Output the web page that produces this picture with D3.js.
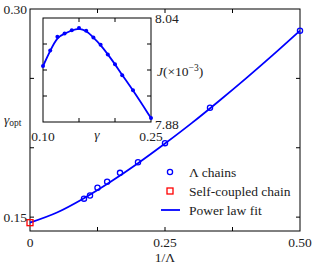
<!DOCTYPE html>
<html>
<head>
<meta charset="utf-8">
<script src="https://cdn.jsdelivr.net/npm/d3@7"></script>
<style>
  body { margin: 0; background: #fff; }
  svg { display: block; }
</style>
</head>
<body>
<svg id="chart" width="315" height="264"></svg>
<script>
// main panel: gamma_opt against 1/Lambda
const chainX = [0.1, 1 / 9, 0.125, 1 / 7, 1 / 6, 0.2, 0.25, 1 / 3, 0.5];
const chainY = [0.1633, 0.1656, 0.1712, 0.1755, 0.1819, 0.1896, 0.2033, 0.2288, 0.2844];
const selfX = [0];
const selfY = [0.146];
const fitX = [0, 0.05, 0.1, 0.15, 0.2, 0.25, 0.3, 0.35, 0.4, 0.45, 0.5];
const fitY = [0.146, 0.1533, 0.1636, 0.1756, 0.1888, 0.203, 0.2179, 0.2337, 0.25, 0.2669, 0.2844];

// inset: J against gamma
const insetG = [0.10, 0.11, 0.12, 0.13, 0.14, 0.15, 0.16, 0.17, 0.18, 0.19, 0.20, 0.21, 0.225, 0.25];
const insetJ = [7.966, 7.990, 8.011, 8.016, 8.021, 8.0246, 8.0205, 8.010, 7.999, 7.984, 7.969, 7.952, 7.929, 7.886];

const xTicks = [0, 0.125, 0.25, 0.375, 0.5];
const xLabels = ["0", "0.25", "0.50"];
const yTicks = [0.15, 0.2, 0.25, 0.3];
const yLabels = ["0.15", "0.30"];
const gTicks = [0.1, 0.15, 0.2, 0.25];
const jTicks = [7.88, 7.92, 7.96, 8.0, 8.04];

const blue = "#0000ff", red = "#ff0000";
const svg = d3.select("#chart")
  .attr("font-family", "'Liberation Serif', 'Times New Roman', serif")
  .attr("font-size", "13.5px")
  .attr("fill", "#222");

var x = d3.scaleLinear().domain([0, 0.5]).range([30, 300]);
var y = d3.scaleLinear().domain([0.14, 0.30]).range([231, 9]);

// inward ticks on all four sides
function inTicks(g, xs, ys, xsc, ysc, len) {
  const [x0, x1] = xsc.range(), [y0, y1] = ysc.range();
  xs.forEach(function (v) {
    g.append("line").attr("x1", xsc(v)).attr("x2", xsc(v)).attr("y1", y0).attr("y2", y0 - len);
    g.append("line").attr("x1", xsc(v)).attr("x2", xsc(v)).attr("y1", y1).attr("y2", y1 + len);
  });
  ys.forEach(function (v) {
    g.append("line").attr("y1", ysc(v)).attr("y2", ysc(v)).attr("x1", x0).attr("x2", x0 + len);
    g.append("line").attr("y1", ysc(v)).attr("y2", ysc(v)).attr("x1", x1).attr("x2", x1 - len);
  });
  g.selectAll("line").attr("stroke", "#000").attr("stroke-width", 1);
}

const main = svg.append("g");
main.append("rect")
  .attr("x", 30).attr("y", 9).attr("width", 270).attr("height", 222)
  .attr("fill", "none").attr("stroke", "#000").attr("stroke-width", 1);
inTicks(main.append("g"), xTicks.slice(1, 4), yTicks.slice(0, 3), x, y, 4);

// fit line
const fitLine = d3.line().x((d) => x(d[0])).y((d) => y(d[1])).curve(d3.curveMonotoneX);
main.append("path")
  .datum(d3.zip(fitX, fitY))
  .attr("d", fitLine)
  .attr("fill", "none").attr("stroke", blue).attr("stroke-width", 1.8);

main.selectAll(".chain")
  .data(d3.zip(chainX, chainY))
  .enter().append("circle")
  .attr("cx", (d) => x(d[0])).attr("cy", (d) => y(d[1])).attr("r", 2.6)
  .attr("fill", "none").attr("stroke", blue).attr("stroke-width", 1.3);

main.selectAll(".self")
  .data(d3.zip(selfX, selfY))
  .enter().append("rect")
  .attr("x", (d) => x(d[0]) - 3).attr("y", (d) => y(d[1]) - 3)
  .attr("width", 6).attr("height", 6)
  .attr("fill", "none").attr("stroke", red).attr("stroke-width", 1.3);

// tick labels
main.selectAll(".xl").data(xLabels).enter().append("text")
  .attr("x", (d) => x(+d)).attr("y", 242).attr("dy", "0.35em")
  .attr("text-anchor", "middle").text((d) => d);
main.selectAll(".yl").data(yLabels).enter().append("text")
  .attr("x", 27).attr("y", (d) => y(+d)).attr("dy", "0.35em")
  .attr("text-anchor", "end").text((d) => d);

main.append("text").attr("x", 165).attr("y", 257).attr("dy", "0.35em")
  .attr("text-anchor", "middle").text("1/Λ");
const yl = main.append("text").attr("x", 4).attr("y", 119).attr("dy", "0.35em");
yl.append("tspan").attr("font-style", "italic").text("γ");
yl.append("tspan").attr("font-size", "9.5px").attr("dy", "2").text("opt");

// legend
const leg = main.append("g");
leg.append("circle").attr("cx", 170).attr("cy", 172).attr("r", 2.6)
  .attr("fill", "none").attr("stroke", blue).attr("stroke-width", 1.3);
leg.append("rect").attr("x", 167).attr("y", 188).attr("width", 6).attr("height", 6)
  .attr("fill", "none").attr("stroke", red).attr("stroke-width", 1.3);
leg.append("line").attr("x1", 161).attr("x2", 180).attr("y1", 210).attr("y2", 210)
  .attr("stroke", blue).attr("stroke-width", 1.8);
["Λ chains", "Self-coupled chain", "Power law fit"].forEach(function (t, i) {
  leg.append("text").attr("x", 189).attr("y", 172 + i * 19).attr("dy", "0.35em").text(t);
});

// inset
var gx = d3.scaleLinear().domain([0.1, 0.25]).range([43, 151]);
var jy = d3.scaleLinear().domain([7.88, 8.04]).range([122, 18]);
const inset = svg.append("g");
inset.append("rect")
  .attr("x", 43).attr("y", 18).attr("width", 108).attr("height", 104)
  .attr("fill", "#fff").attr("stroke", "#000").attr("stroke-width", 1);
inTicks(inset.append("g"), gTicks.slice(1, 3), jTicks.slice(1, 4), gx, jy, 4);

inset.append("path")
  .datum(d3.zip(insetG, insetJ))
  .attr("d", d3.line().x((d) => gx(d[0])).y((d) => jy(d[1])).curve(d3.curveBasis))
  .attr("fill", "none").attr("stroke", blue).attr("stroke-width", 1.8);
inset.selectAll(".pt")
  .data(d3.zip(insetG, insetJ))
  .enter().append("circle")
  .attr("cx", (d) => gx(d[0])).attr("cy", (d) => jy(d[1])).attr("r", 2)
  .attr("fill", blue);

inset.append("text").attr("x", gx(0.1)).attr("y", 136).attr("dy", "0.35em")
  .attr("text-anchor", "middle").text("0.10");
inset.append("text").attr("x", gx(0.25)).attr("y", 136).attr("dy", "0.35em")
  .attr("text-anchor", "middle").text("0.25");
inset.append("text").attr("x", 97).attr("y", 134).attr("dy", "0.35em")
  .attr("text-anchor", "middle").attr("font-style", "italic").text("γ");
inset.append("text").attr("x", 155).attr("y", jy(8.04)).attr("dy", "0.35em").text("8.04");
inset.append("text").attr("x", 155).attr("y", jy(7.88) + 2).attr("dy", "0.35em").text("7.88");
const jl = inset.append("text").attr("x", 157).attr("y", 71).attr("dy", "0.35em");
jl.append("tspan").attr("font-style", "italic").text("J");
jl.append("tspan").text("(×10");
jl.append("tspan").attr("font-size", "9.5px").attr("dy", "-5").text("−3");
jl.append("tspan").attr("dy", "5").text(")");
</script>
</body>
</html>
